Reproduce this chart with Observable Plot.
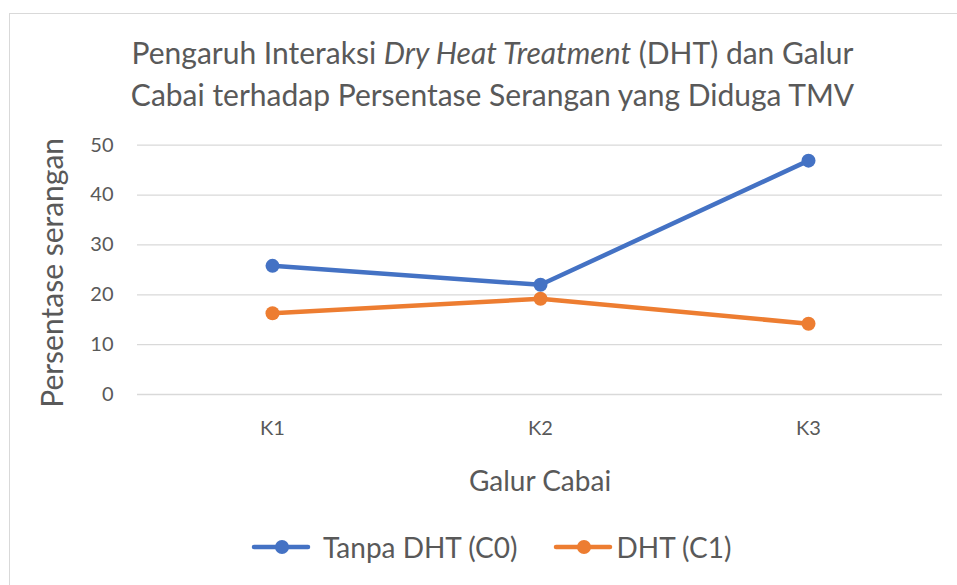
<!DOCTYPE html>
<html>
<head>
<meta charset="utf-8">
<script src="https://cdn.jsdelivr.net/npm/d3@7"></script>
<script src="https://cdn.jsdelivr.net/npm/@observablehq/plot@0.6"></script>
<style>
  html, body { margin: 0; padding: 0; background: #fff; }
  body { width: 957px; height: 585px; position: relative; overflow: hidden; font-family: Lato, "Open Sans", sans-serif; color: #595959; }
  #frame { position: absolute; left: 9px; top: 13px; width: 970px; height: 620px; border: 1px solid #D9D9D9; box-sizing: border-box; }
  #title { position: absolute; left: 0; top: 31px; width: 985px; text-align: center; font-size: 30px; line-height: 42px; white-space: nowrap; }
  #chart { position: absolute; left: 0; top: 120px; }
  #legend { position: absolute; left: 251px; top: 525px; display: flex; align-items: center; font-size: 28px; line-height: 44px; white-space: nowrap; }
  .item { display: flex; align-items: center; }
  .item svg { display: block; }
</style>
</head>
<body>
<div id="frame"></div>
<div id="title">Pengaruh Interaksi <i>Dry Heat Treatment</i> (DHT) dan Galur<br>Cabai terhadap Persentase Serangan yang Diduga TMV</div>
<div id="chart"></div>
<div id="legend"></div>
<script>
const categories = ["K1", "K2", "K3"];
const tanpaDHT = [25.8, 22.0, 46.9];
const dhtC1 = [16.3, 19.2, 14.2];
const seriesNames = ["Tanpa DHT (C0)", "DHT (C1)"];
const seriesColors = ["#4472C4", "#ED7D31"];
const yTicks = [0, 10, 20, 30, 40, 50];
const xTitle = "Galur Cabai";
const yTitle = "Persentase serangan";

const rows = [];
categories.forEach((c, i) => {
  rows.push({k: c, v: tanpaDHT[i], s: seriesNames[0]});
  rows.push({k: c, v: dhtC1[i], s: seriesNames[1]});
});

const chart = Plot.plot({
  width: 957,
  height: 380,
  marginTop: 24.7,
  marginBottom: 106,
  marginLeft: 137,
  marginRight: 15,
  style: {fontFamily: "Lato, 'Open Sans', sans-serif", color: "#595959", background: "transparent", overflow: "visible"},
  x: {type: "point", domain: categories, padding: 0.5},
  y: {domain: [0, 50]},
  color: {domain: seriesNames, range: seriesColors},
  marks: [
    Plot.gridY(yTicks, {stroke: "#D9D9D9", strokeOpacity: 1, strokeWidth: 1.3}),
    Plot.axisY({ticks: yTicks, tickSize: 0, tickPadding: 24, fontSize: 20, label: null, fill: "#595959"}),
    Plot.axisX({tickSize: 0, tickPadding: 26, fontSize: 20, label: null, fill: "#595959"}),
    Plot.text([xTitle], {frameAnchor: "bottom", lineAnchor: "bottom", dy: 96, fontSize: 28, fill: "#595959", text: d => d}),
    Plot.text([yTitle], {frameAnchor: "left", textAnchor: "middle", lineAnchor: "bottom", dx: -75, dy: 3, rotate: -90, fontSize: 30, fill: "#595959", text: d => d}),
    Plot.line(rows, {x: "k", y: "v", z: "s", stroke: "s", strokeWidth: 4.5, strokeLinecap: "round", strokeLinejoin: "round"}),
    Plot.dot(rows, {x: "k", y: "v", fill: "s", r: 7})
  ]
});
document.getElementById("chart").appendChild(chart);

const legend = document.getElementById("legend");
const gaps = [[0, 12], [35, 4]];
seriesNames.forEach((name, i) => {
  const item = document.createElement("div");
  item.className = "item";
  item.style.marginLeft = gaps[i][0] + "px";
  item.innerHTML = `<svg width="60" height="16" style="margin-right:${gaps[i][1]}px"><line x1="3" y1="8" x2="57" y2="8" stroke="${seriesColors[i]}" stroke-width="4.5" stroke-linecap="round"/><circle cx="31" cy="8" r="7" fill="${seriesColors[i]}"/></svg><span>${name}</span>`;
  legend.appendChild(item);
});
</script>
</body>
</html>
